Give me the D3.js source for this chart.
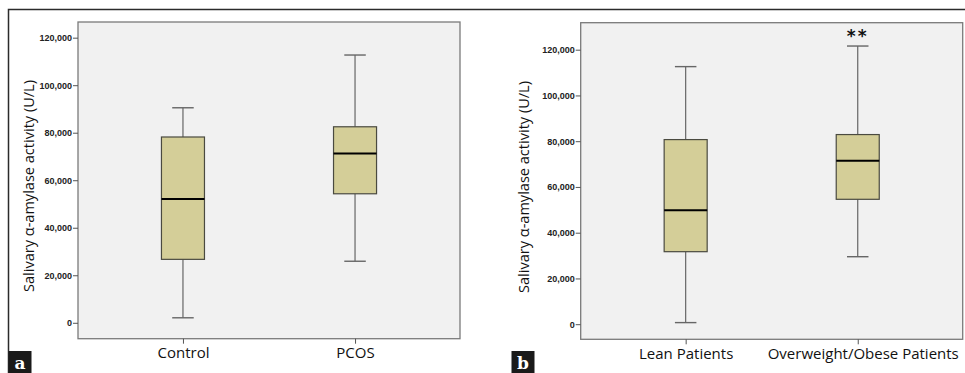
<!DOCTYPE html>
<html>
<head>
<meta charset="utf-8">
<script src="https://cdn.jsdelivr.net/npm/d3@7"></script>
<style>
  html,body{margin:0;padding:0;background:#fff;}
  svg{display:block;}
</style>
</head>
<body>
<svg id="chart" width="965" height="373"></svg>
<script>
// ===== data =====
const catsA = ["Control", "PCOS"];
const catsB = ["Lean Patients", "Overweight/Obese Patients"];
// [min, q1, median, q3, max]
const statsA = [
  [2100, 26700, 52100, 78200, 90500],
  [25900, 54300, 71300, 82500, 112700]
];
const statsB = [
  [700, 31700, 49800, 80700, 112600],
  [29500, 54600, 71500, 82900, 121600]
];
const yTicks = [0, 20000, 40000, 60000, 80000, 100000, 120000];
const yTitle = "Salivary α-amylase activity (U/L)";
const markB = ["", "**"];

// ===== styles =====
const BOX_FILL = "#d4ce98";
const BOX_STROKE = "#4a4a40";
const WHISK = "#666";
const PLOT_BG = "#f1f1f1";
const PLOT_BORDER = "#7a7a7a";

const svg = d3.select("#chart");

// outer frame (left + top)
svg.append("path")
  .attr("d", "M8.5,373 L8.5,9.5 L965,9.5")
  .attr("fill", "none").attr("stroke", "#2b2b2b").attr("stroke-width", 1.5);

function panel(opts){
  const {left, top, right, bottom, domain, cats, stats, marks, titleX, titleY, label, labelX, catShift} = opts;
  const g = svg.append("g");

  const x = d3.scalePoint().domain(cats).range([left, right]).padding(0.61);
  const y = d3.scaleLinear().domain(domain).range([bottom, top]);
  const bw = x.step() * 0.25;
  const cw = bw / 2;

  g.append("rect")
    .attr("x", left).attr("y", top)
    .attr("width", right - left).attr("height", bottom - top)
    .attr("fill", PLOT_BG).attr("stroke", PLOT_BORDER).attr("stroke-width", 1.3);

  // y axis
  const ya = g.append("g")
    .attr("transform", `translate(${left},0)`)
    .call(d3.axisLeft(y).tickValues(yTicks).tickSize(5).tickPadding(1).tickFormat(d3.format(",")));
  ya.select(".domain").remove();
  ya.selectAll("line").attr("stroke", "#555");
  ya.selectAll("text")
    .attr("fill", "#222")
    .attr("font-family", "Liberation Sans, Arial, sans-serif")
    .attr("font-weight", "bold")
    .attr("font-size", "9px");

  // x axis
  const xa = g.append("g")
    .attr("transform", `translate(0,${bottom})`)
    .call(d3.axisBottom(x).tickSize(5).tickPadding(4));
  xa.select(".domain").remove();
  xa.selectAll("line").attr("stroke", "#555");
  xa.selectAll("text")
    .attr("fill", "#111")
    .attr("font-family", "Open Sans, sans-serif")
    .attr("font-size", "15px")
    .attr("dx", (d, i) => (catShift ? catShift[i] : 0));

  // boxes
  const bx = g.selectAll("g.box").data(cats).join("g").attr("class", "box");
  bx.each(function(c, i){
    const s = stats[i];
    const cx = x(c);
    const el = d3.select(this);
    el.append("line")
      .attr("x1", cx).attr("x2", cx).attr("y1", y(s[0])).attr("y2", y(s[1]))
      .attr("stroke", WHISK).attr("stroke-width", 1.2);
    el.append("line")
      .attr("x1", cx).attr("x2", cx).attr("y1", y(s[3])).attr("y2", y(s[4]))
      .attr("stroke", WHISK).attr("stroke-width", 1.2);
    el.append("line")
      .attr("x1", cx - cw/2).attr("x2", cx + cw/2).attr("y1", y(s[0])).attr("y2", y(s[0]))
      .attr("stroke", WHISK).attr("stroke-width", 1.4);
    el.append("line")
      .attr("x1", cx - cw/2).attr("x2", cx + cw/2).attr("y1", y(s[4])).attr("y2", y(s[4]))
      .attr("stroke", WHISK).attr("stroke-width", 1.4);
    el.append("rect")
      .attr("x", cx - bw/2).attr("y", y(s[3]))
      .attr("width", bw).attr("height", y(s[1]) - y(s[3]))
      .attr("fill", BOX_FILL).attr("stroke", BOX_STROKE).attr("stroke-width", 1.2);
    el.append("line")
      .attr("x1", cx - bw/2).attr("x2", cx + bw/2).attr("y1", y(s[2])).attr("y2", y(s[2]))
      .attr("stroke", "#000").attr("stroke-width", 2);
    if (marks && marks[i]){
      el.append("text")
        .attr("x", cx).attr("y", y(s[4]) - 4)
        .attr("text-anchor", "middle")
        .attr("font-family", "DejaVu Sans, sans-serif")
        .attr("font-weight", "bold")
        .attr("font-size", "17px")
        .attr("letter-spacing", "2px")
        .attr("fill", "#111")
        .text(marks[i]);
    }
  });

  // y title
  g.append("text")
    .attr("transform", `translate(${titleX},${titleY}) rotate(-90)`)
    .attr("text-anchor", "middle")
    .attr("dominant-baseline", "central")
    .attr("font-family", "Open Sans, sans-serif")
    .attr("font-size", "15px")
    .attr("textLength", 212)
    .attr("lengthAdjust", "spacingAndGlyphs")
    .attr("fill", "#111")
    .text(yTitle);

  // panel label
  g.append("rect")
    .attr("x", labelX).attr("y", 351).attr("width", 23).attr("height", 22)
    .attr("fill", "#1a1a1a");
  g.append("text")
    .attr("x", labelX + 11.5).attr("y", 369)
    .attr("text-anchor", "middle")
    .attr("font-family", "DejaVu Serif, serif")
    .attr("font-weight", "bold")
    .attr("font-size", "17px")
    .attr("fill", "#fff")
    .text(label);
}

panel({
  left: 78, top: 22, right: 460, bottom: 338.7,
  domain: [-6700, 126600],
  cats: catsA, stats: statsA, marks: null,
  titleX: 28, titleY: 186, label: "a", labelX: 8.5
});

panel({
  left: 580.7, top: 22.7, right: 962.7, bottom: 339.3,
  domain: [-6600, 131800],
  cats: catsB, stats: statsB, marks: markB,
  titleX: 523, titleY: 187, label: "b", labelX: 511.5, catShift: [0, 5]
});
</script>
</body>
</html>
